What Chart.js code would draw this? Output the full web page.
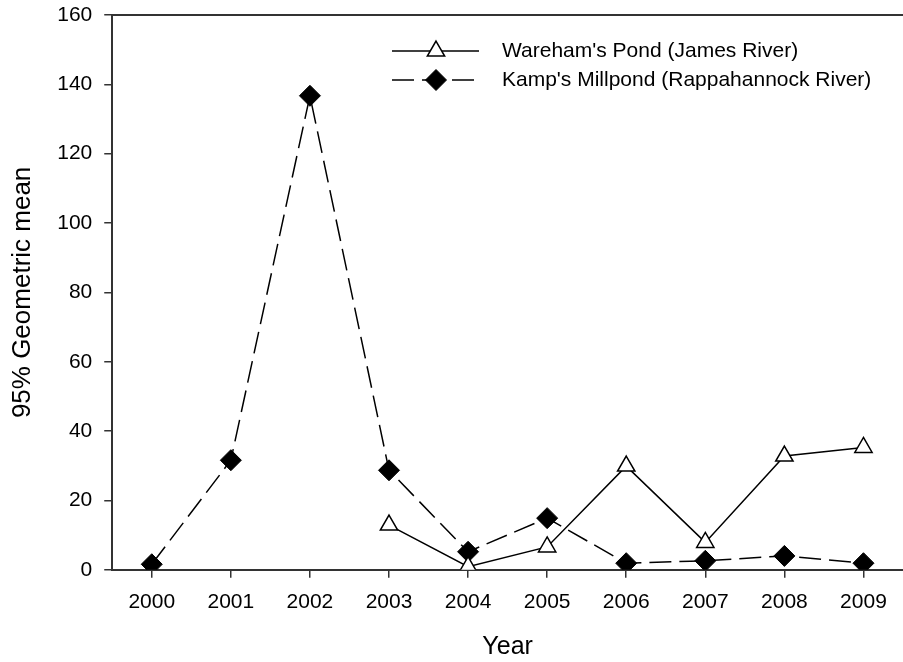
<!DOCTYPE html>
<html>
<head>
<meta charset="utf-8">
<script src="https://cdn.jsdelivr.net/npm/chart.js@4/dist/chart.umd.min.js"></script>
<style>
  html, body { margin: 0; padding: 0; background: #fff; }
  #wrap { width: 903px; height: 662px; position: relative; }
</style>
</head>
<body>
<div id="wrap"><canvas id="myChart"></canvas></div>
<script>
// --- data ---
const years = ['2000', '2001', '2002', '2003', '2004', '2005', '2006', '2007', '2008', '2009'];
const wareham = [null, null, null, 12.9, 0.9, 6.6, 29.9, 7.9, 32.8, 35.3];
const kamp = [1.6, 31.6, 136.7, 28.7, 5.2, 14.9, 1.9, 2.6, 4.0, 1.9];
const seriesNames = ["Wareham's Pond (James River)", "Kamp's Millpond (Rappahannock River)"];
const yTicks = [0, 20, 40, 60, 80, 100, 120, 140, 160];

const FONT = "'Liberation Sans', Arial, sans-serif";
const AXIS = '#333';

// top frame line + legend drawn in the upper right of the plot
const frameAndLegend = {
    id: 'frameAndLegend',
    afterDraw(chart) {
        const c = chart.ctx;
        const a = chart.chartArea;
        c.save();
        c.strokeStyle = AXIS;
        c.lineWidth = 2;
        c.beginPath();
        c.moveTo(a.left - 1, a.top);
        c.lineTo(a.right, a.top);
        c.stroke();

        const rows = [51, 80];
        chart.data.datasets.forEach((ds, i) => {
            const y = rows[i];
            c.strokeStyle = '#000';
            c.lineWidth = ds.borderWidth;
            c.setLineDash(ds.borderDash || []);
            c.beginPath();
            c.moveTo(392, y);
            c.lineTo(479, y);
            c.stroke();
            c.setLineDash([]);
            c.fillStyle = ds.pointBackgroundColor;
            c.strokeStyle = ds.pointBorderColor;
            c.lineWidth = ds.pointBorderWidth;
            Chart.helpers.drawPoint(c, {
                pointStyle: ds.pointStyle,
                radius: ds.pointRadius,
                borderWidth: ds.pointBorderWidth,
                rotation: 0
            }, 436, y);
            c.fillStyle = '#000';
            c.font = '21px ' + FONT;
            c.textBaseline = 'middle';
            c.textAlign = 'left';
            c.fillText(ds.label, 502, y);
        });
        c.restore();
    }
};

new Chart(document.getElementById('myChart'), {
    type: 'line',
    data: {
        labels: years,
        datasets: [{
            label: seriesNames[0],
            data: wareham,
            borderColor: '#000',
            borderWidth: 1.5,
            pointStyle: 'triangle',
            pointRadius: 10,
            pointBackgroundColor: '#fff',
            pointBorderColor: '#000',
            pointBorderWidth: 1.5,
            tension: 0
        }, {
            label: seriesNames[1],
            data: kamp,
            borderColor: '#000',
            borderWidth: 1.5,
            borderDash: [22, 8],
            pointStyle: 'rectRot',
            pointRadius: 10.5,
            pointBackgroundColor: '#000',
            pointBorderColor: '#000',
            pointBorderWidth: 1,
            tension: 0
        }]
    },
    options: {
        responsive: true,
        maintainAspectRatio: false,
        animation: false,
        layout: { autoPadding: false, padding: { top: 15, right: 0, bottom: 0, left: 0 } },
        scales: {
            x: {
                type: 'category',
                offset: true,
                afterFit(axis) {
                    // plot runs right up to the edge of the figure
                    axis.paddingLeft = 0;
                    axis.paddingRight = 0;
                },
                border: { display: true, color: AXIS, width: 2 },
                grid: { drawOnChartArea: false, drawTicks: true, tickLength: 8, color: AXIS, lineWidth: 1.5 },
                ticks: { color: '#000', padding: 12, font: { family: FONT, size: 21 }, maxRotation: 0 },
                title: {
                    display: true,
                    text: 'Year',
                    color: '#000',
                    font: { family: FONT, size: 25 },
                    padding: { top: 5, bottom: 0 }
                }
            },
            y: {
                min: 0,
                max: 160,
                afterBuildTicks(axis) {
                    axis.ticks = yTicks.map(v => ({ value: v }));
                },
                afterFit(axis) {
                    axis.paddingTop = 0;
                    axis.paddingBottom = 0;
                },
                border: { display: true, color: AXIS, width: 2 },
                grid: { drawOnChartArea: false, drawTicks: true, tickLength: 8, color: AXIS, lineWidth: 1.5 },
                ticks: { color: '#000', padding: 12, font: { family: FONT, size: 21 } },
                title: {
                    display: true,
                    text: '95% Geometric mean',
                    color: '#000',
                    font: { family: FONT, size: 26 },
                    padding: { top: 7, bottom: 7 }
                }
            }
        },
        plugins: {
            legend: { display: false },
            tooltip: { enabled: false }
        }
    },
    plugins: [frameAndLegend]
});
</script>
</body>
</html>
